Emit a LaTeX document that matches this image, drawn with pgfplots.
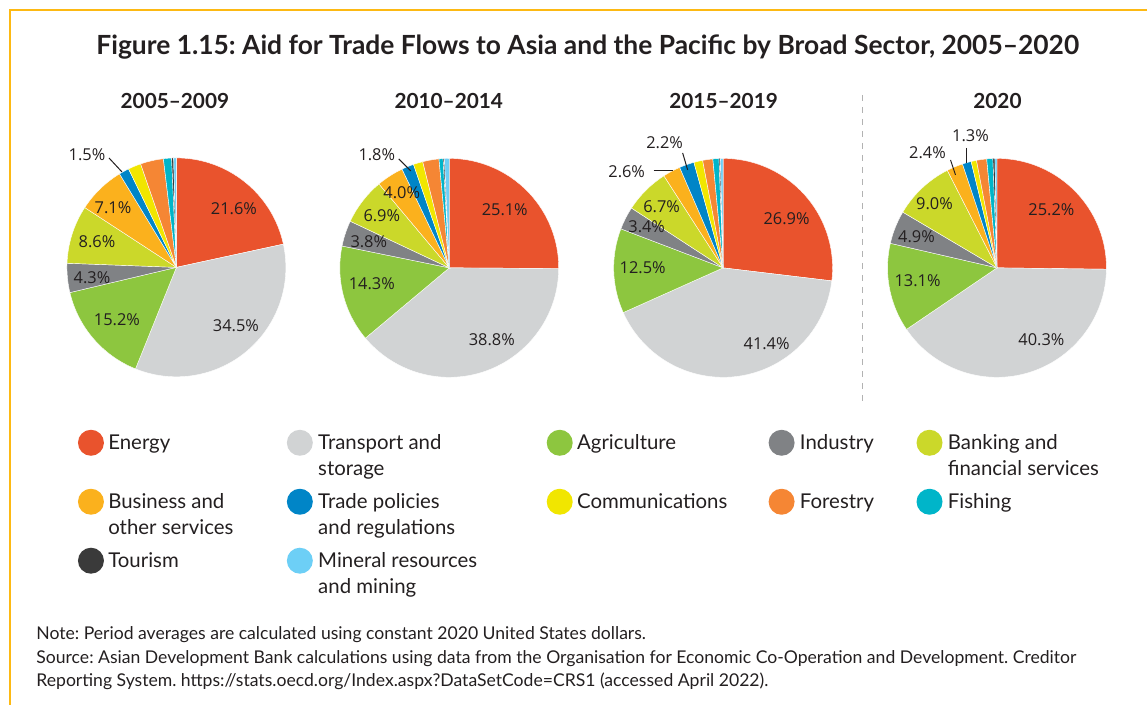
\documentclass[border=0pt]{standalone}
\usepackage{pgfplots}
\pgfplotsset{compat=1.18}
\usepackage{fontspec}
\setmainfont{Lato}
\newfontfamily\pief{Open Sans}
\definecolor{cEn}{HTML}{E9532D}
\definecolor{cTr}{HTML}{D1D3D4}
\definecolor{cAg}{HTML}{8DC63F}
\definecolor{cIn}{HTML}{808285}
\definecolor{cBa}{HTML}{CBD82A}
\definecolor{cBu}{HTML}{FBB11D}
\definecolor{cTp}{HTML}{0085C7}
\definecolor{cCo}{HTML}{F1E600}
\definecolor{cFo}{HTML}{F58634}
\definecolor{cFi}{HTML}{00B5C9}
\definecolor{cTo}{HTML}{3A3A3A}
\definecolor{cMi}{HTML}{6DCFF6}
\definecolor{txt}{HTML}{231F20}
\definecolor{frameY}{HTML}{FDB913}
% shares (%) clockwise from 12 o'clock
\def\pieA{21.6/cEn,34.5/cTr,15.2/cAg,4.3/cIn,8.6/cBa,7.1/cBu,1.5/cTp,1.9/cCo,3.4/cFo,1.2/cFi,0.3/cTo,0.4/cMi}
\def\pieB{25.1/cEn,38.8/cTr,14.3/cAg,3.8/cIn,6.9/cBa,4.0/cBu,1.8/cTp,1.4/cCo,2.4/cFo,0.6/cFi,0.2/cTo,0.7/cMi}
\def\pieC{26.9/cEn,41.4/cTr,12.5/cAg,3.4/cIn,6.7/cBa,2.6/cBu,2.2/cTp,1.3/cCo,1.5/cFo,0.9/cFi,0.2/cTo,0.4/cMi}
\def\pieD{25.2/cEn,40.3/cTr,13.1/cAg,4.9/cIn,9.0/cBa,2.4/cBu,1.3/cTp,0.8/cCo,1.5/cFo,0.9/cFi,0.3/cTo,0.3/cMi}
\def\R{54.75pt}
\newcommand{\drawpie}[3]{%
  \gdef\cum{0}%
  \foreach \v/\c in #3 {%
    \pgfmathsetmacro{\a}{90-3.6*\cum}%
    \pgfmathsetmacro{\b}{90-3.6*(\cum+\v)}%
    \edef\tmp{\noexpand\fill[\c, draw=white, line width=0.2pt] (axis cs:#1,#2) -- ++(\a:\R) arc[start angle=\a, end angle=\b, radius=\R] -- cycle;}%
    \tmp
    \pgfmathsetmacro{\t}{\cum+\v}\global\let\cum\t
  }%
}
\frenchspacing
\begin{document}
\begin{tikzpicture}
\begin{axis}[x=0.5pt, y=0.5pt, xmin=0, xmax=1148, ymin=0, ymax=705,
  y dir=reverse, hide axis, scale only axis, clip=false]
\path (axis cs:0,0) rectangle (axis cs:1148,705);
% frame
\draw[frameY, line width=0.6pt] (axis cs:10,705) -- (axis cs:10,10) -- (axis cs:1148,10);
% title
\node[font=\bfseries\fontsize{13.2}{15}\selectfont, text=txt] at (axis cs:588,47) {Figure 1.15: Aid for Trade Flows to Asia and the Pacific by Broad Sector, 2005--2020};
\begin{scope}[font=\bfseries\fontsize{10.4}{12}\selectfont, text=txt]
\node at (axis cs:175,101) {2005--2009};
\node at (axis cs:449,101) {2010--2014};
\node at (axis cs:724,101) {2015--2019};
\node at (axis cs:998,101) {2020};
\end{scope}
% pies
\drawpie{176.5}{267.5}{\pieA}
\drawpie{449.5}{268}{\pieB}
\drawpie{723.5}{268}{\pieC}
\drawpie{997.5}{268}{\pieD}
% dashed separator
\draw[gray!60, dashed, line width=0.5pt] (axis cs:863,95) -- (axis cs:863,405);
% pie labels
\begin{scope}[font=\pief\fontsize{8.2}{10}\selectfont, text=txt]
\node at (axis cs:234,209) {21.6\%};
\node at (axis cs:236,326) {34.5\%};
\node at (axis cs:117,320) {15.2\%};
\node at (axis cs:92,278) {4.3\%};
\node at (axis cs:97,242) {8.6\%};
\node at (axis cs:113,208) {7.1\%};
\node at (axis cs:87,155) {1.5\%};
\node at (axis cs:505,210) {25.1\%};
\node at (axis cs:492,340) {38.8\%};
\node at (axis cs:372,284) {14.3\%};
\node at (axis cs:369,242) {3.8\%};
\node at (axis cs:382,216) {6.9\%};
\node at (axis cs:402,193) {4.0\%};
\node at (axis cs:377,155) {1.8\%};
\node at (axis cs:787,219) {26.9\%};
\node at (axis cs:767,344) {41.4\%};
\node at (axis cs:643,268) {12.5\%};
\node at (axis cs:647,227) {3.4\%};
\node at (axis cs:662,207) {6.7\%};
\node at (axis cs:627,172) {2.6\%};
\node at (axis cs:665,143) {2.2\%};
\node at (axis cs:1052,210) {25.2\%};
\node at (axis cs:1042,340) {40.3\%};
\node at (axis cs:918,281) {13.1\%};
\node at (axis cs:917,237) {4.9\%};
\node at (axis cs:935,204) {9.0\%};
\node at (axis cs:928,153) {2.4\%};
\node at (axis cs:971,136) {1.3\%};
\end{scope}
% leader lines
\begin{scope}[txt, line width=0.5pt]
\draw (axis cs:109,158) -- (axis cs:122,172);
\draw (axis cs:399,159) -- (axis cs:411,171);
\draw (axis cs:654,171) -- (axis cs:673,171);
\draw (axis cs:683,153) -- (axis cs:688,170);
\draw (axis cs:951,160) -- (axis cs:956,175);
\draw (axis cs:967,148) -- (axis cs:967,163);
\end{scope}
% legend
\begin{scope}[font=\fontsize{10.2}{12}\selectfont, text=txt, every node/.style={anchor=mid west, inner xsep=0pt}]
\fill[cEn] (axis cs:91,443) circle[radius=6.5pt];
\node at (axis cs:108,445) {Energy};
\fill[cBu] (axis cs:91,502) circle[radius=6.5pt];
\node at (axis cs:108,504) {Business and};
\node at (axis cs:108,530) {other services};
\fill[cTo] (axis cs:91,561) circle[radius=6.5pt];
\node at (axis cs:108,563) {Tourism};
\fill[cTr] (axis cs:300,443) circle[radius=6.5pt];
\node at (axis cs:318,445) {Transport and};
\node at (axis cs:318,471) {storage};
\fill[cTp] (axis cs:300,502) circle[radius=6.5pt];
\node at (axis cs:318,504) {Trade policies};
\node at (axis cs:318,530) {and regulations};
\fill[cMi] (axis cs:300,561) circle[radius=6.5pt];
\node at (axis cs:318,563) {Mineral resources};
\node at (axis cs:318,589) {and mining};
\fill[cAg] (axis cs:560,443) circle[radius=6.5pt];
\node at (axis cs:577,445) {Agriculture};
\fill[cCo] (axis cs:560,502) circle[radius=6.5pt];
\node at (axis cs:577,504) {Communications};
\fill[cIn] (axis cs:782,443) circle[radius=6.5pt];
\node at (axis cs:800,445) {Industry};
\fill[cFo] (axis cs:782,502) circle[radius=6.5pt];
\node at (axis cs:800,504) {Forestry};
\fill[cBa] (axis cs:930,443) circle[radius=6.5pt];
\node at (axis cs:948,445) {Banking and};
\node at (axis cs:948,471) {financial services};
\fill[cFi] (axis cs:930,502) circle[radius=6.5pt];
\node at (axis cs:948,504) {Fishing};
\end{scope}
% notes
\begin{scope}[font=\fontsize{8.8}{10}\selectfont, text=txt, every node/.style={anchor=mid west, inner xsep=0pt}]
\node at (axis cs:36,635) {Note: Period averages are calculated using constant 2020 United States dollars.};
\node at (axis cs:36,659) {Source: Asian Development Bank calculations using data from the Organisation for Economic Co-Operation and Development. Creditor};
\node at (axis cs:36,682) {Reporting System. https://stats.oecd.org/Index.aspx?DataSetCode=CRS1 (accessed April 2022).};
\end{scope}
\end{axis}
\end{tikzpicture}
\end{document}
